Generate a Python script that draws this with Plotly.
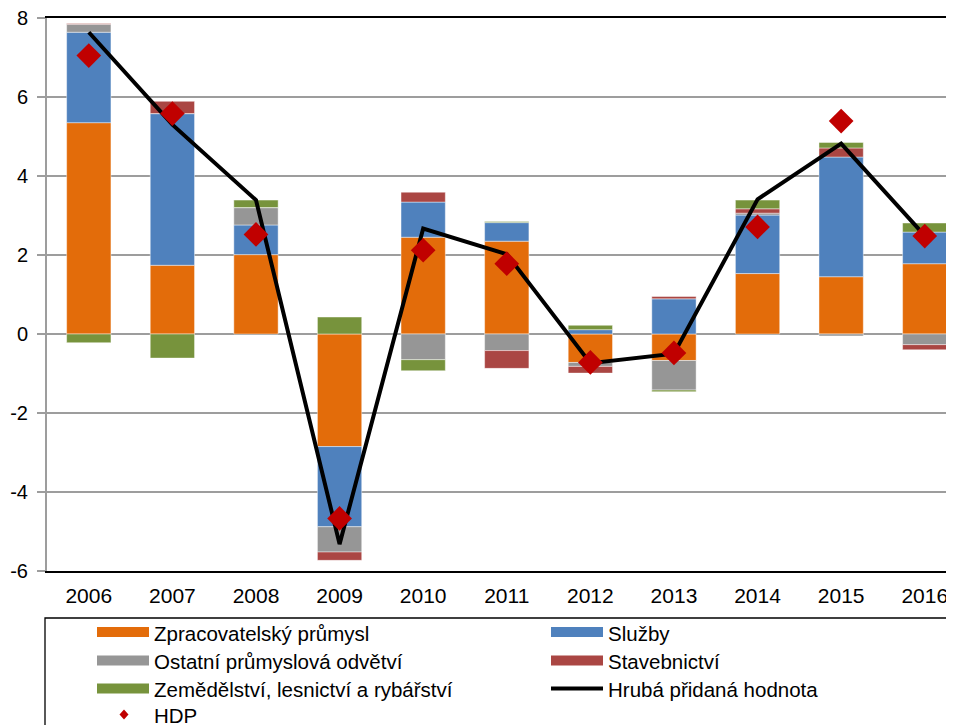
import plotly.graph_objects as go

years = ["2006", "2007", "2008", "2009", "2010", "2011", "2012", "2013", "2014", "2015", "2016"]

zpracovatelsky = [5.35, 1.74, 2.01, -2.85, 2.45, 2.35, -0.72, -0.67, 1.53, 1.45, 1.78]
sluzby = [2.29, 3.84, 0.75, -2.03, 0.89, 0.47, 0.11, 0.89, 1.48, 3.03, 0.80]
ostatni = [0.20, 0.00, 0.44, -0.64, -0.65, -0.42, -0.10, -0.75, 0.05, -0.05, -0.27]
stavebnictvi = [0.02, 0.31, 0.00, -0.21, 0.25, -0.45, -0.17, 0.06, 0.11, 0.23, -0.13]
zemedelstvi = [-0.22, -0.61, 0.19, 0.43, -0.28, 0.03, 0.11, -0.04, 0.22, 0.14, 0.23]
hruba_pridana = [7.64, 5.30, 3.39, -5.32, 2.67, 2.02, -0.74, -0.50, 3.41, 4.82, 2.49]
hdp = [7.05, 5.58, 2.52, -4.67, 2.12, 1.78, -0.72, -0.48, 2.71, 5.39, 2.48]

y_ticks = [-6, -4, -2, 0, 2, 4, 6, 8]
y_tick_labels = ["-6", "-4", "-2", "0", "2", "4", "6", "8"]

bar_names = ["Zpracovatelský průmysl", "Služby", "Ostatní průmyslová odvětví",
             "Stavebnictví", "Zemědělství, lesnictví a rybářství"]
bar_values = [zpracovatelsky, sluzby, ostatni, stavebnictvi, zemedelstvi]
bar_colors = ["#E36C0A", "#4F81BD", "#969696", "#AA4643", "#77933C"]
line_name = "Hrubá přidaná hodnota"
hdp_name = "HDP"

FONT = "Liberation Sans, Arial, sans-serif"
OFF = 8  # page body margin
W, H = 954 - OFF, 725 - OFF
L, R, T, B = 47 - OFF, 0, 18 - OFF, 725 - 571
pw, ph = W - L - R, H - T - B


def px(x):
    return (x - OFF - L) / pw


def py(y):
    return (H - B - (y - OFF)) / ph


fig = go.Figure()
for name, vals, col in zip(bar_names, bar_values, bar_colors):
    fig.add_trace(go.Bar(x=years, y=vals, name=name, marker_color=col,
                         marker_line=dict(color="rgba(255,255,255,0.55)", width=0.8),
                         showlegend=False))

fig.add_trace(go.Scatter(x=years, y=hruba_pridana, mode="lines", name=line_name,
                         line=dict(color="black", width=4), showlegend=False))
fig.add_trace(go.Scatter(x=years, y=hdp, mode="markers", name=hdp_name,
                         marker=dict(symbol="diamond", size=19, color="#C00000"),
                         showlegend=False))

# custom legend (Excel-style box with wide swatches)
shapes = []
annotations = []
shapes.append(dict(type="rect", xref="paper", yref="paper",
                   x0=px(45), x1=px(970), y0=py(618), y1=py(740),
                   line=dict(color="black", width=1.3), fillcolor="white", layer="above"))
rows_y = [632, 660.5, 688.5, 714.5]
col_x = [97, 551]
entries = [(n, "bar", c) for n, c in zip(bar_names, bar_colors)]
entries.insert(5, (line_name, "line", "black"))
entries.append((hdp_name, "marker", "#C00000"))
for i, (name, kind, col) in enumerate(entries):
    r, c = divmod(i, 2)
    x0 = col_x[c]
    yc = rows_y[r]
    if kind == "bar":
        shapes.append(dict(type="rect", xref="paper", yref="paper",
                           x0=px(x0), x1=px(x0 + 52), y0=py(yc - 5), y1=py(yc + 5),
                           line=dict(width=0), fillcolor=col, layer="above"))
    elif kind == "line":
        shapes.append(dict(type="line", xref="paper", yref="paper",
                           x0=px(x0), x1=px(x0 + 52), y0=py(yc), y1=py(yc),
                           line=dict(color=col, width=4), layer="above"))
    else:
        cx = x0 + 27
        path = "M {a},{b} L {c},{d} L {a},{e} L {f},{d} Z".format(
            a=px(cx), b=py(yc - 5), c=px(cx + 4.5), d=py(yc), e=py(yc + 5), f=px(cx - 4.5))
        shapes.append(dict(type="path", xref="paper", yref="paper", path=path,
                           line=dict(width=0), fillcolor=col, layer="above"))
    annotations.append(dict(xref="paper", yref="paper", x=px(x0 + 55), y=py(yc + 1),
                            xanchor="left", yanchor="middle", showarrow=False,
                            text=name, font=dict(family=FONT, size=20.5, color="black")))

fig.update_layout(
    width=W, height=H,
    margin=dict(l=L, r=R, t=T, b=B, pad=0, autoexpand=False),
    barmode="relative", bargap=0.47,
    plot_bgcolor="white", paper_bgcolor="white",
    font=dict(family=FONT, size=20, color="black"),
    shapes=shapes, annotations=annotations,
    showlegend=False,
    xaxis=dict(type="category", range=[-0.5, 10.35], showgrid=False, automargin=False,
               showline=True, linecolor="black", linewidth=2, mirror=True,
               ticks="", tickfont=dict(family=FONT, size=21),
               ticklabelstandoff=5, ticklabeloverflow="allow"),
    xaxis2=dict(overlaying="x", anchor="free", position=6 / 14, range=[-0.5, 10.35],
                automargin=False,
                tickmode="array", tickvals=[0.5 + i for i in range(10)],
                ticks="outside", ticklen=6, tickcolor="#9d9d9d", tickwidth=2,
                showticklabels=False, showgrid=False, showline=False, zeroline=False),
    yaxis=dict(range=[-6, 8], tickmode="array", tickvals=y_ticks, ticktext=y_tick_labels,
               automargin=False, showgrid=True, gridcolor="#9d9d9d",
               gridwidth=2, zeroline=True, zerolinecolor="#9d9d9d", zerolinewidth=2,
               showline=True, linecolor="#9d9d9d", linewidth=2,
               ticks="outside", ticklen=8, tickcolor="#9d9d9d", tickwidth=2,
               tickfont=dict(family=FONT, size=20), ticklabelstandoff=5,
               ticklabeloverflow="allow"),
)

fig.write_html("out.html")
